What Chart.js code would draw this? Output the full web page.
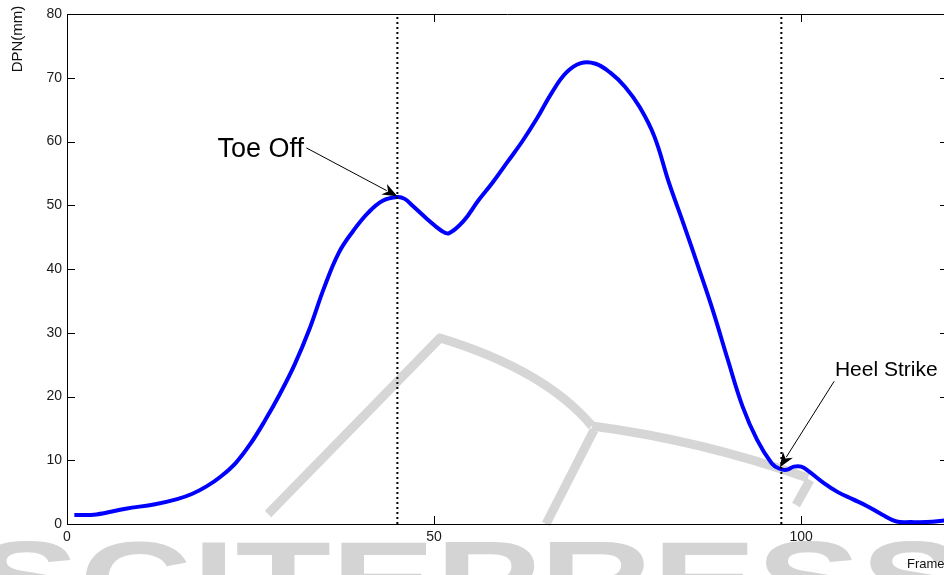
<!DOCTYPE html>
<html>
<head>
<meta charset="utf-8">
<script src="https://cdn.jsdelivr.net/npm/chart.js@4.4.1/dist/chart.umd.min.js"></script>
<style>
  html, body { margin: 0; padding: 0; overflow: hidden; background: #fff; }
  #wrap { width: 948px; height: 575px; }
</style>
</head>
<body>
<div id="wrap"><canvas id="c"></canvas></div>
<script>
// gait curve
const frames = [1, 4, 8, 12, 15, 17, 19, 21, 23, 25, 27, 29, 31, 33, 35, 37, 39, 41, 43, 45, 46, 47, 49, 51, 52, 54, 56, 58, 60, 62, 64, 66, 68, 70, 72, 74, 76, 78, 80, 82, 84, 86, 88, 90, 92, 94, 96, 97, 98, 99, 100, 101, 103, 105, 107, 109, 111, 113, 115, 117, 120];
const dpn = [1.4, 1.5, 2.4, 3.1, 3.9, 4.7, 5.9, 7.5, 9.6, 12.6, 16.3, 20.4, 25, 30.5, 37, 42.5, 46, 48.8, 50.7, 51.3, 51.0, 50, 47.9, 46, 45.6, 47.5, 50.7, 53.6, 56.8, 60, 63.6, 67.6, 70.8, 72.3, 72.2, 70.8, 68.6, 65.4, 60.8, 53.5, 47.0, 40.3, 33.4, 25.8, 18.5, 13.2, 9.5, 8.7, 8.5, 9.0, 9.0, 8.3, 6.5, 5.0, 3.9, 2.8, 1.5, 0.4, 0.3, 0.3, 0.6];

const xTicks = [0, 50, 100];
const yTicks = [0, 10, 20, 30, 40, 50, 60, 70, 80];

// toe off / heel strike frames (dotted markers)
const eventFrames = [45, 97.3];

// annotation text + arrows, in data units
const notes = [
  { text: "Toe Off", size: 27, tx: 20.5, ty: 57.6, fx: 32.6, fy: 59.0, hx: 45.0, hy: 51.4 },
  { text: "Heel Strike", size: 21, tx: 104.6, ty: 23.2, fx: 104.5, fy: 22.4, hx: 97.1, hy: 8.9 }
];

const FONT = '"Liberation Sans", Arial, Helvetica, sans-serif';

const curve = frames.map((f, i) => ({ x: f, y: dpn[i] }));
const markers = eventFrames.map(f => ({
  data: [{ x: f, y: 0 }, { x: f, y: 80 }],
  borderColor: "#000",
  borderWidth: 2,
  borderDash: [2, 3],
  pointRadius: 0,
  order: 0
}));

function arrow(ctx, x0, y0, x1, y1) {
  const a = Math.atan2(y1 - y0, x1 - x0);
  const len = 15, w = 6;
  const c = Math.cos(a), s = Math.sin(a);
  ctx.beginPath();
  ctx.moveTo(x0, y0);
  ctx.lineTo(x1 - c * len * 0.8, y1 - s * len * 0.8);
  ctx.stroke();
  ctx.beginPath();
  ctx.moveTo(x1, y1);
  ctx.lineTo(x1 - c * len - s * w, y1 - s * len + c * w);
  ctx.lineTo(x1 - c * len * 0.7, y1 - s * len * 0.7);
  ctx.lineTo(x1 - c * len + s * w, y1 - s * len - c * w);
  ctx.closePath();
  ctx.fill();
}

// faint publisher watermark behind everything
const watermark = {
  id: "watermark",
  beforeDraw(chart) {
    const ctx = chart.ctx;
    ctx.save();
    ctx.fillStyle = "#d4d4d4";
    ctx.font = "bold 110px " + FONT;
    ctx.textBaseline = "top";
    const word = "SCITEPRESS";
    const w = ctx.measureText(word).width;
    ctx.translate(-25, 533);
    ctx.scale(990 / w, 1);
    ctx.fillText(word, 0, 0);
    ctx.restore();

    ctx.save();
    ctx.strokeStyle = "#d6d6d6";
    ctx.lineWidth = 9;
    ctx.lineJoin = "round";
    ctx.beginPath();
    ctx.moveTo(268, 514);
    ctx.lineTo(440, 338);
    ctx.quadraticCurveTo(545, 370, 592, 426);
    ctx.stroke();
    ctx.beginPath();
    ctx.moveTo(592, 426);
    ctx.quadraticCurveTo(700, 440, 808, 478);
    ctx.stroke();
    ctx.beginPath();
    ctx.moveTo(594, 430);
    ctx.lineTo(546, 524);
    ctx.stroke();
    ctx.beginPath();
    ctx.moveTo(810, 480);
    ctx.lineTo(796, 505);
    ctx.stroke();
    ctx.restore();
  }
};

// MATLAB style box: top line, inward ticks on all sides, labels, annotations
const matlabBox = {
  id: "matlabBox",
  afterDraw(chart) {
    const ctx = chart.ctx;
    const { left, right, top, bottom } = chart.chartArea;
    const xs = chart.scales.x, ys = chart.scales.y;
    const tl = 8;
    ctx.save();
    ctx.strokeStyle = "#000";
    ctx.lineWidth = 1;
    ctx.beginPath();
    ctx.moveTo(left, top + 0.5);
    ctx.lineTo(right, top + 0.5);
    ctx.moveTo(right - 0.5, top);
    ctx.lineTo(right - 0.5, bottom);
    yTicks.forEach(v => {
      const y = Math.round(ys.getPixelForValue(v)) + 0.5;
      ctx.moveTo(left, y); ctx.lineTo(left + tl, y);
      ctx.moveTo(right, y); ctx.lineTo(right - tl, y);
    });
    xTicks.forEach(v => {
      const x = Math.round(xs.getPixelForValue(v)) + 0.5;
      ctx.moveTo(x, bottom); ctx.lineTo(x, bottom - tl);
      ctx.moveTo(x, top); ctx.lineTo(x, top + tl);
    });
    ctx.stroke();

    ctx.fillStyle = "#111";
    ctx.font = "13px " + FONT;
    ctx.textBaseline = "alphabetic";
    ctx.textAlign = "left";
    ctx.fillText("Frame", 907, 568);

    ctx.save();
    ctx.translate(18, 39);
    ctx.rotate(-Math.PI / 2);
    ctx.textAlign = "center";
    ctx.textBaseline = "middle";
    ctx.font = "15px " + FONT;
    ctx.fillText("DPN(mm)", 0, 0);
    ctx.restore();

    ctx.fillStyle = "#000";
    ctx.strokeStyle = "#000";
    ctx.lineWidth = 1;
    notes.forEach(n => {
      ctx.font = n.size + "px " + FONT;
      ctx.textAlign = "left";
      ctx.textBaseline = "alphabetic";
      ctx.fillText(n.text, xs.getPixelForValue(n.tx), ys.getPixelForValue(n.ty));
      arrow(ctx,
        xs.getPixelForValue(n.fx), ys.getPixelForValue(n.fy),
        xs.getPixelForValue(n.hx), ys.getPixelForValue(n.hy));
    });
    ctx.restore();
  }
};

new Chart(document.getElementById("c"), {
  type: "line",
  data: {
    datasets: [
      ...markers,
      {
        data: curve,
        borderColor: "#0000ff",
        borderWidth: 4,
        pointRadius: 0,
        tension: 0.4,
        order: 1
      }
    ]
  },
  options: {
    responsive: true,
    maintainAspectRatio: false,
    animation: false,
    events: [],
    layout: { padding: { top: 14, right: 0, left: 0, bottom: 0 } },
    plugins: { legend: { display: false }, tooltip: { enabled: false } },
    scales: {
      x: {
        type: "linear",
        min: 0,
        max: 120,
        grid: { display: false, drawTicks: false },
        border: { display: true, color: "#000", width: 1 },
        afterBuildTicks: s => { s.ticks = xTicks.map(v => ({ value: v })); },
        afterFit: s => { s.height = 51; },
        ticks: { padding: 5, color: "#1a1a1a", font: { family: FONT, size: 14 }, maxRotation: 0 }
      },
      y: {
        min: 0,
        max: 80,
        grid: { display: false, drawTicks: false },
        border: { display: true, color: "#000", width: 1 },
        afterBuildTicks: s => { s.ticks = yTicks.map(v => ({ value: v })); },
        afterFit: s => { s.width = 67; },
        ticks: { padding: 5, color: "#1a1a1a", font: { family: FONT, size: 14 } }
      }
    }
  },
  plugins: [watermark, matlabBox]
});
</script>
</body>
</html>
